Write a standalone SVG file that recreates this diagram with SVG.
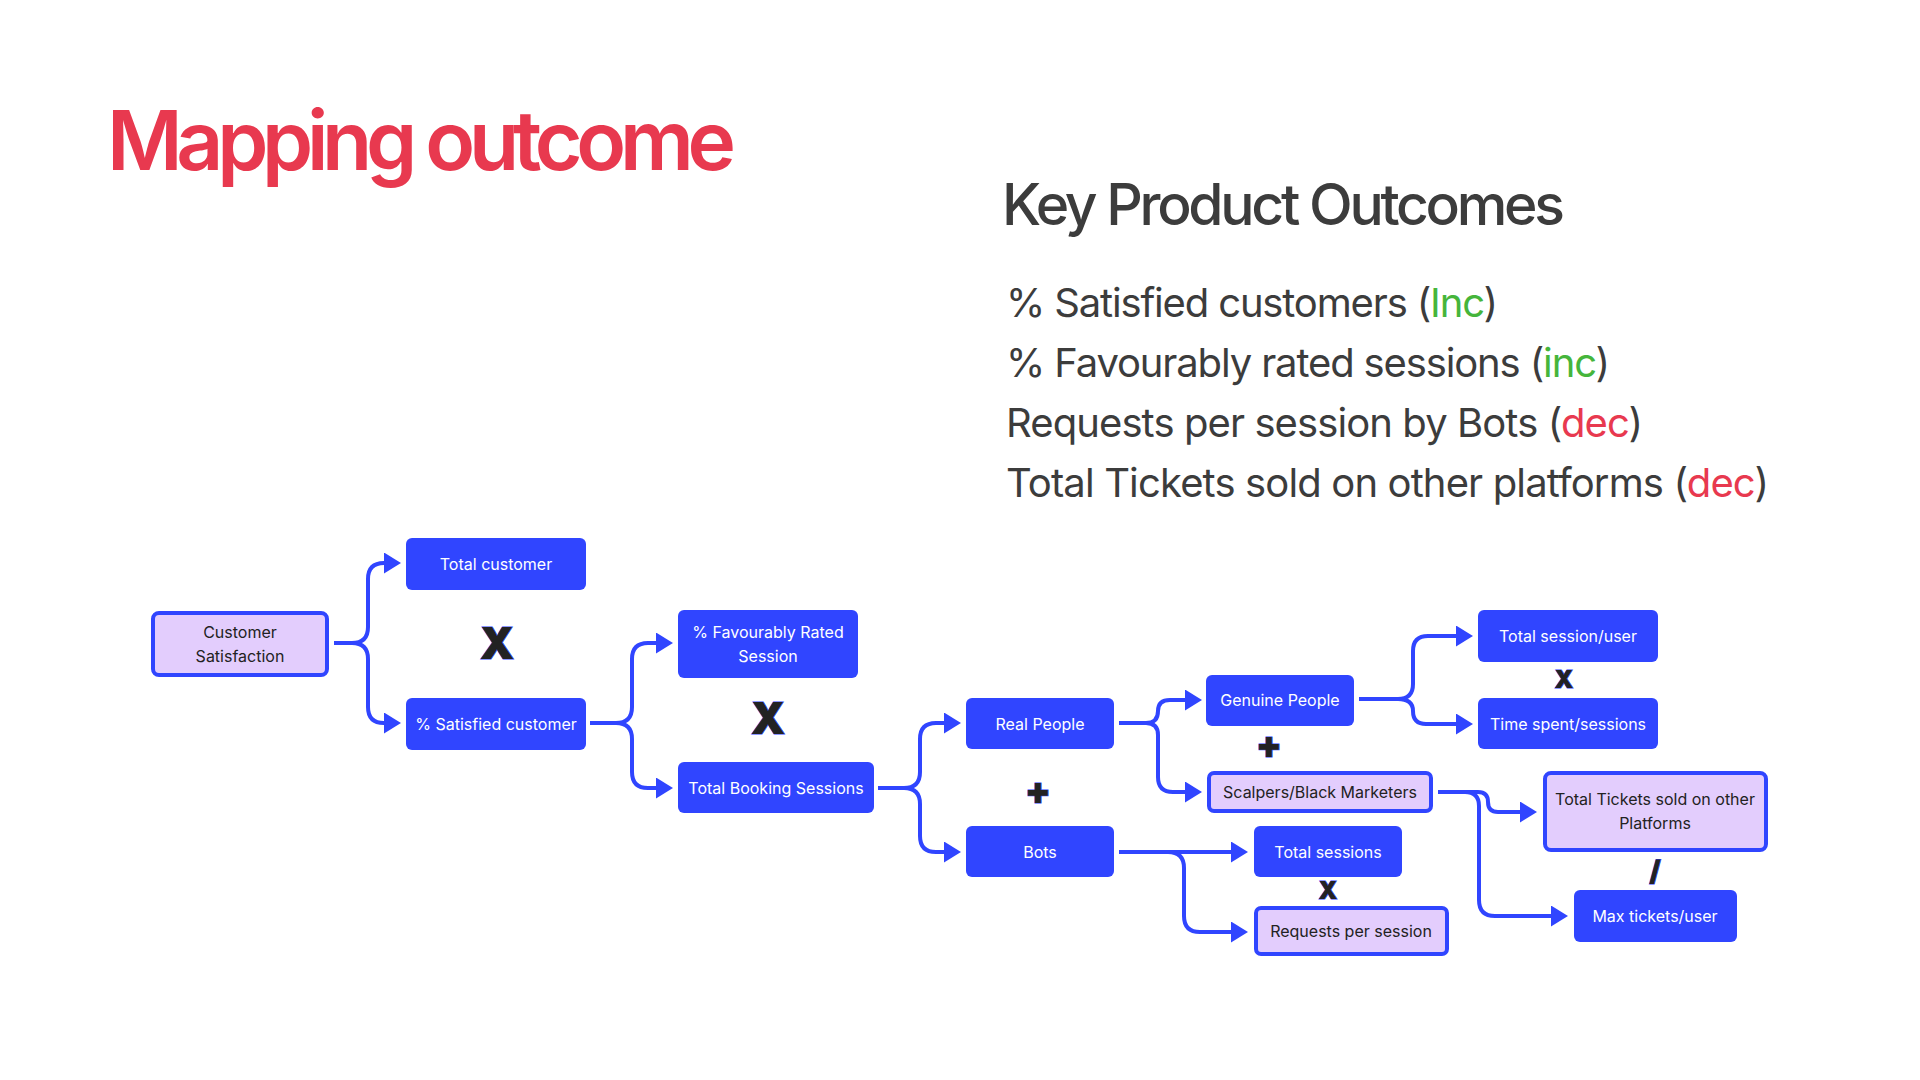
<svg xmlns="http://www.w3.org/2000/svg" width="1920" height="1080" viewBox="0 0 1920 1080">
<style>
text{font-family:Inter,"Noto Sans","Liberation Sans",sans-serif}
.b{fill:#3045FF}
.l{fill:#E3CDFD;stroke:#3045FF;stroke-width:4}
.wt{fill:#FFFFFF;font-size:16px;text-anchor:middle}
.dt{fill:#222222;font-size:16px;text-anchor:middle}
.c{fill:none;stroke:#3045FF;stroke-width:4;stroke-linejoin:round}
.a{marker-end:url(#ah)}
.op{fill:#222222;font-weight:900;text-anchor:middle;stroke:#3045FF;stroke-width:1;paint-order:stroke}
.li{fill:#3C3C3C;font-size:40px}
.g{fill:#45B53B}
.r{fill:#E8394F}
</style>
<defs>
<marker id="ah" markerUnits="userSpaceOnUse" markerWidth="18" markerHeight="22" refX="7" refY="10.5" orient="auto">
<path d="M0,0 L17,10.5 L0,21 Z" fill="#3045FF"/>
</marker>
</defs>
<rect width="1920" height="1080" fill="#FFFFFF"/>

<text x="107" y="170" font-size="82" font-weight="600" fill="#E8394F" textLength="629" lengthAdjust="spacing">Mapping outcome</text>
<text x="1002" y="225" font-size="57" font-weight="500" fill="#3C3C3C" textLength="563" lengthAdjust="spacing">Key Product Outcomes</text>
<text class="li" x="1006" y="317" textLength="492" lengthAdjust="spacing">% Satisfied customers (<tspan class="g">Inc</tspan>)</text>
<text class="li" x="1006" y="377" textLength="604" lengthAdjust="spacing">% Favourably rated sessions (<tspan class="g">inc</tspan>)</text>
<text class="li" x="1006" y="437" textLength="637" lengthAdjust="spacing">Requests per session by Bots (<tspan class="r">dec</tspan>)</text>
<text class="li" x="1006" y="497" textLength="763" lengthAdjust="spacing">Total Tickets sold on other platforms (<tspan class="r">dec</tspan>)</text>

<g id="connectors">
<path class="c a" d="M334,643 H352 Q368,643 368,627 V579 Q368,563 384,563 H391"/>
<path class="c a" d="M334,643 H352 Q368,643 368,659 V707 Q368,723 384,723 H391"/>
<path class="c a" d="M590,723 H616 Q632,723 632,707 V659 Q632,643 648,643 H663"/>
<path class="c a" d="M590,723 H616 Q632,723 632,739 V772 Q632,788 648,788 H663"/>
<path class="c a" d="M878,788 H904 Q920,788 920,772 V739 Q920,723 936,723 H951"/>
<path class="c a" d="M878,788 H904 Q920,788 920,804 V836 Q920,852 936,852 H951"/>
<path class="c a" d="M1119,723 H1146 Q1158,723 1158,711 Q1158,700 1170,700 H1192"/>
<path class="c a" d="M1119,723 H1146 Q1158,723 1158,735 V777 Q1158,792 1173,792 H1192"/>
<path class="c a" d="M1119,852 H1238"/>
<path class="c a" d="M1168,852 Q1184,852 1184,868 V916 Q1184,932 1200,932 H1238"/>
<path class="c a" d="M1359,699 H1398 Q1413,699 1413,684 V651 Q1413,636 1428,636 H1463"/>
<path class="c a" d="M1359,699 H1398 Q1413,699 1413,711 Q1413,724 1426,724 H1463"/>
<path class="c a" d="M1438,792 H1478 Q1488,792 1488,802 Q1488,812 1498,812 H1527"/>
<path class="c a" d="M1438,792 H1465 Q1479,792 1479,806 V900 Q1479,916 1495,916 H1558"/>
</g>

<g id="n-customer-satisfaction"><rect class="l" x="153" y="613" width="174" height="62" rx="6"/><text class="dt" x="240" y="638">Customer</text><text class="dt" x="240" y="662">Satisfaction</text></g>
<g id="n-total-customer"><rect class="b" x="406" y="538" width="180" height="52" rx="6"/><text class="wt" x="496" y="570">Total customer</text></g>
<g id="n-satisfied-customer"><rect class="b" x="406" y="698" width="180" height="52" rx="6"/><text class="wt" x="496" y="730">% Satisfied customer</text></g>
<g id="n-favourably-rated"><rect class="b" x="678" y="610" width="180" height="68" rx="6"/><text class="wt" x="768" y="638">% Favourably Rated</text><text class="wt" x="768" y="662">Session</text></g>
<g id="n-total-booking"><rect class="b" x="678" y="762" width="196" height="51" rx="6"/><text class="wt" x="776" y="794">Total Booking Sessions</text></g>
<g id="n-real-people"><rect class="b" x="966" y="698" width="148" height="51" rx="6"/><text class="wt" x="1040" y="730">Real People</text></g>
<g id="n-bots"><rect class="b" x="966" y="826" width="148" height="51" rx="6"/><text class="wt" x="1040" y="858">Bots</text></g>
<g id="n-genuine-people"><rect class="b" x="1206" y="675" width="148" height="51" rx="6"/><text class="wt" x="1280" y="706">Genuine People</text></g>
<g id="n-scalpers"><rect class="l" x="1209" y="773" width="222" height="38" rx="5"/><text class="dt" x="1320" y="798">Scalpers/Black Marketers</text></g>
<g id="n-total-sessions"><rect class="b" x="1254" y="826" width="148" height="51" rx="6"/><text class="wt" x="1328" y="858">Total sessions</text></g>
<g id="n-requests-per-session"><rect class="l" x="1256" y="908" width="191" height="46" rx="5"/><text class="dt" x="1351" y="937">Requests per session</text></g>
<g id="n-total-session-user"><rect class="b" x="1478" y="610" width="180" height="52" rx="6"/><text class="wt" x="1568" y="642">Total session/user</text></g>
<g id="n-time-spent"><rect class="b" x="1478" y="698" width="180" height="51" rx="6"/><text class="wt" x="1568" y="730">Time spent/sessions</text></g>
<g id="n-total-tickets"><rect class="l" x="1545" y="773" width="221" height="77" rx="6"/><text class="dt" x="1655" y="805">Total Tickets sold on other</text><text class="dt" x="1655" y="829">Platforms</text></g>
<g id="n-max-tickets"><rect class="b" x="1574" y="890" width="163" height="52" rx="6"/><text class="wt" x="1655" y="922">Max tickets/user</text></g>

<g id="operators">
<text class="op" x="497" y="659" font-size="44">X</text>
<text class="op" x="768" y="734" font-size="44">X</text>
<text class="op" x="1038" y="804" font-size="38">+</text>
<text class="op" x="1269" y="758" font-size="38">+</text>
<text class="op" x="1564" y="688" font-size="24">X</text>
<text class="op" x="1328" y="899" font-size="24">X</text>
<text class="op" x="1655" y="881" font-size="28">/</text>
</g>
</svg>
